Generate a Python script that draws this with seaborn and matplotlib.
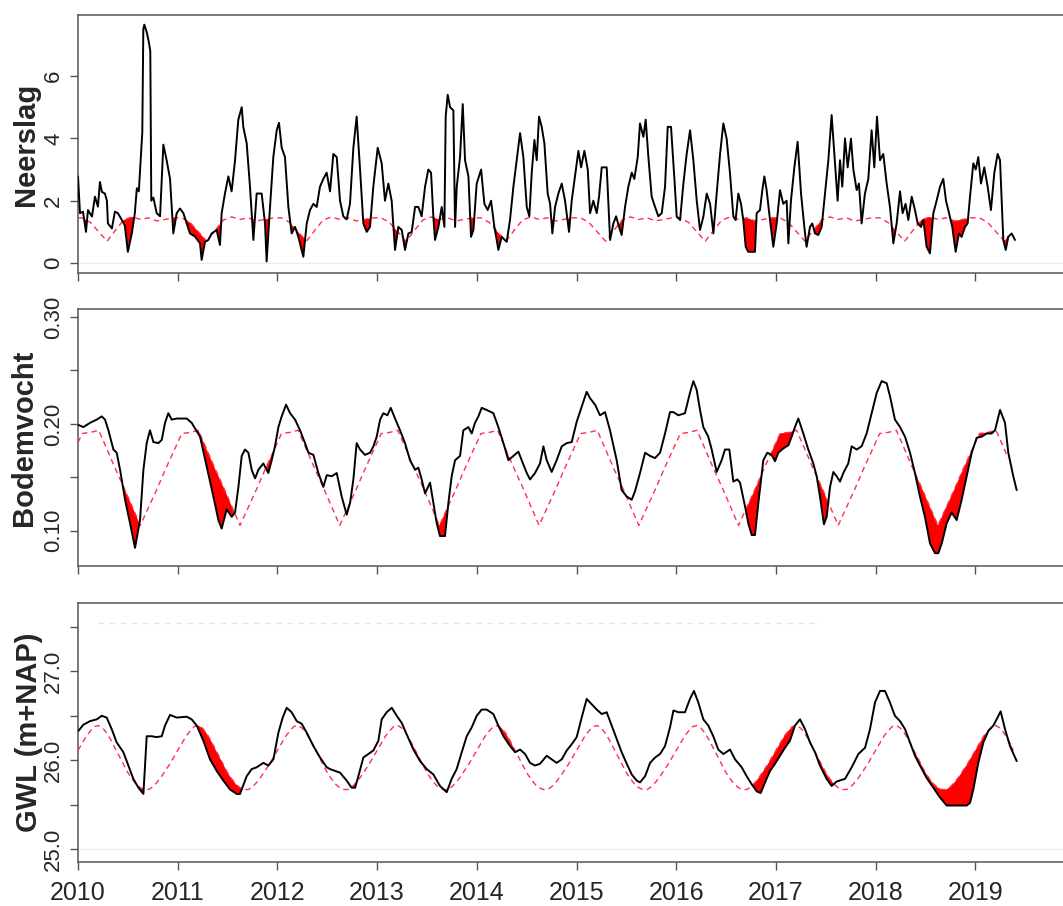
import numpy as np
import matplotlib
matplotlib.use("Agg")
import matplotlib.pyplot as plt
import seaborn as sns

# === Data (decimal years) ===
neer_t = [2010.00, 2010.02, 2010.05, 2010.08, 2010.10, 2010.14, 2010.17, 2010.20, 2010.22, 2010.24,
          2010.27, 2010.29, 2010.30, 2010.34, 2010.37, 2010.40, 2010.44, 2010.47, 2010.50, 2010.54,
          2010.57, 2010.59, 2010.61, 2010.63, 2010.645, 2010.655, 2010.665, 2010.69, 2010.71, 2010.725,
          2010.735, 2010.756, 2010.789, 2010.823, 2010.856, 2010.889, 2010.923, 2010.956, 2010.990, 2011.023,
          2011.057, 2011.090, 2011.123, 2011.174, 2011.224, 2011.240, 2011.274, 2011.307, 2011.341, 2011.391,
          2011.424, 2011.441, 2011.474, 2011.508, 2011.541, 2011.575, 2011.608, 2011.642, 2011.658, 2011.692,
          2011.725, 2011.759, 2011.792, 2011.842, 2011.876, 2011.892, 2011.926, 2011.959, 2011.993, 2012.016,
          2012.043, 2012.076, 2012.110, 2012.143, 2012.177, 2012.210, 2012.260, 2012.294, 2012.327, 2012.361,
          2012.394, 2012.427, 2012.461, 2012.494, 2012.528, 2012.561, 2012.595, 2012.628, 2012.661, 2012.695,
          2012.728, 2012.762, 2012.795, 2012.829, 2012.862, 2012.896, 2012.929, 2012.962, 2013.006, 2013.046,
          2013.079, 2013.113, 2013.146, 2013.180, 2013.213, 2013.247, 2013.280, 2013.314, 2013.347, 2013.381,
          2013.414, 2013.447, 2013.481, 2013.514, 2013.541, 2013.564, 2013.581, 2013.615, 2013.648, 2013.675,
          2013.688, 2013.708, 2013.732, 2013.765, 2013.782, 2013.799, 2013.832, 2013.859, 2013.882, 2013.916,
          2013.942, 2013.966, 2013.999, 2014.043, 2014.076, 2014.109, 2014.143, 2014.176, 2014.200, 2014.216,
          2014.250, 2014.300, 2014.333, 2014.367, 2014.400, 2014.434, 2014.467, 2014.501, 2014.527, 2014.551,
          2014.578, 2014.601, 2014.624, 2014.651, 2014.678, 2014.711, 2014.735, 2014.758, 2014.785, 2014.818,
          2014.852, 2014.885, 2014.925, 2014.952, 2014.985, 2015.019, 2015.046, 2015.079, 2015.113, 2015.136,
          2015.169, 2015.203, 2015.226, 2015.253, 2015.303, 2015.337, 2015.370, 2015.397, 2015.427, 2015.453,
          2015.487, 2015.520, 2015.554, 2015.580, 2015.614, 2015.637, 2015.671, 2015.694, 2015.721, 2015.754,
          2015.788, 2015.821, 2015.855, 2015.888, 2015.915, 2015.948, 2015.982, 2016.005, 2016.039, 2016.072,
          2016.105, 2016.139, 2016.172, 2016.206, 2016.239, 2016.273, 2016.306, 2016.340, 2016.373, 2016.406,
          2016.440, 2016.473, 2016.506, 2016.539, 2016.573, 2016.596, 2016.623, 2016.650, 2016.673, 2016.697,
          2016.723, 2016.757, 2016.790, 2016.807, 2016.840, 2016.864, 2016.884, 2016.907, 2016.941, 2016.974,
          2017.008, 2017.041, 2017.074, 2017.108, 2017.125, 2017.151, 2017.185, 2017.218, 2017.252, 2017.285,
          2017.308, 2017.342, 2017.365, 2017.392, 2017.425, 2017.459, 2017.492, 2017.526, 2017.559, 2017.586,
          2017.619, 2017.643, 2017.666, 2017.693, 2017.720, 2017.753, 2017.777, 2017.810, 2017.833, 2017.860,
          2017.893, 2017.927, 2017.960, 2017.987, 2018.014, 2018.044, 2018.077, 2018.111, 2018.144, 2018.178,
          2018.211, 2018.245, 2018.271, 2018.301, 2018.328, 2018.362, 2018.395, 2018.422, 2018.455, 2018.479,
          2018.512, 2018.545, 2018.579, 2018.612, 2018.646, 2018.679, 2018.706, 2018.729, 2018.769, 2018.803,
          2018.836, 2018.863, 2018.897, 2018.923, 2018.947, 2018.980, 2019.004, 2019.030, 2019.057, 2019.090,
          2019.124, 2019.157, 2019.191, 2019.224, 2019.248, 2019.281, 2019.305, 2019.331, 2019.365, 2019.398]
neer_v = [2.78, 1.6, 1.65, 1.0, 1.7, 1.49, 2.13, 1.81, 2.6, 2.28,
          2.23, 2.0, 1.27, 1.11, 1.65, 1.6, 1.38, 1.2, 0.36, 0.95,
          1.6, 2.4, 2.3, 3.4, 4.2, 7.5, 7.65, 7.4, 7.1, 6.8,
          2.0, 2.1, 1.6, 1.5, 3.8, 3.3, 2.7, 0.95, 1.6, 1.75,
          1.6, 1.27, 0.95, 0.85, 0.63, 0.1, 0.68, 0.74, 0.95, 1.06,
          0.58, 1.6, 2.23, 2.78, 2.3, 3.3, 4.6, 5.0, 4.37, 3.84,
          2.45, 0.74, 2.23, 2.23, 1.27, 0.05, 1.8, 3.4, 4.26, 4.5,
          3.7, 3.4, 1.8, 0.95, 1.16, 0.84, 0.2, 1.27, 1.7, 1.9,
          1.8, 2.45, 2.7, 2.9, 2.3, 3.5, 3.4, 2.0, 1.5, 1.4,
          1.9, 3.7, 4.7, 3.0, 1.27, 1.0, 1.16, 2.45, 3.7, 3.2,
          2.0, 2.55, 2.0, 0.42, 1.16, 1.06, 0.42, 0.95, 1.0, 1.8,
          1.8, 1.5, 2.45, 3.0, 2.9, 1.5, 0.74, 1.16, 1.8, 1.16,
          4.7, 5.4, 5.0, 4.9, 1.16, 2.45, 3.4, 5.1, 3.3, 2.78,
          0.84, 1.06, 2.55, 3.0, 1.9, 1.7, 2.0, 1.16, 0.74, 0.42,
          0.84, 0.68, 1.38, 2.45, 3.3, 4.17, 3.4, 1.8, 1.5, 2.9,
          3.95, 3.3, 4.7, 4.37, 3.84, 2.23, 1.9, 0.95, 1.8, 2.23,
          2.55, 2.0, 1.0, 2.0, 2.78, 3.6, 3.07, 3.6, 3.0, 1.6,
          2.0, 1.6, 2.13, 3.07, 3.07, 0.74, 1.27, 1.5, 1.16, 0.9,
          1.8, 2.45, 2.9, 2.7, 3.4, 4.48, 4.05, 4.6, 3.4, 2.13,
          1.8, 1.5, 1.6, 2.45, 4.37, 4.37, 2.7, 1.5, 1.38, 2.55,
          3.5, 4.26, 3.3, 2.0, 1.06, 1.5, 2.23, 1.9, 0.95, 2.23,
          3.5, 4.48, 3.99, 2.9, 1.5, 1.38, 2.23, 1.9, 1.38, 0.52,
          0.36, 0.36, 0.36, 1.6, 1.7, 2.34, 2.78, 2.34, 1.38, 0.52,
          1.27, 2.34, 1.9, 2.0, 0.63, 2.0, 3.07, 3.89, 2.23, 1.16,
          0.52, 1.16, 1.27, 0.95, 0.9, 1.16, 2.23, 3.3, 4.75, 3.5,
          2.0, 3.3, 2.45, 4.0, 3.07, 3.99, 3.0, 2.34, 2.55, 1.27,
          2.23, 2.7, 4.26, 3.07, 4.7, 3.3, 3.5, 2.55, 1.8, 0.63,
          1.27, 2.3, 1.6, 1.9, 1.38, 2.13, 1.7, 1.27, 1.16, 1.38,
          0.52, 0.31, 1.6, 2.0, 2.45, 2.7, 2.0, 1.7, 1.16, 0.36,
          0.95, 0.84, 1.16, 1.27, 2.13, 3.2, 3.0, 3.4, 2.55, 3.07,
          2.45, 1.7, 2.9, 3.5, 3.3, 0.74, 0.42, 0.84, 0.95, 0.74]

bodem_t = [2010.004, 2010.054, 2010.121, 2010.188, 2010.238, 2010.271, 2010.305, 2010.355, 2010.388, 2010.422,
           2010.472, 2010.522, 2010.572, 2010.622, 2010.656, 2010.689, 2010.722, 2010.756, 2010.806, 2010.840,
           2010.873, 2010.906, 2010.940, 2010.990, 2011.090, 2011.140, 2011.191, 2011.224, 2011.291, 2011.358,
           2011.408, 2011.441, 2011.491, 2011.542, 2011.575, 2011.609, 2011.642, 2011.675, 2011.709, 2011.742,
           2011.776, 2011.809, 2011.859, 2011.909, 2011.943, 2011.976, 2012.010, 2012.043, 2012.087, 2012.127,
           2012.177, 2012.227, 2012.277, 2012.311, 2012.361, 2012.411, 2012.461, 2012.495, 2012.545, 2012.595,
           2012.645, 2012.695, 2012.729, 2012.762, 2012.795, 2012.829, 2012.879, 2012.929, 2012.963, 2012.996,
           2013.030, 2013.063, 2013.103, 2013.137, 2013.180, 2013.230, 2013.280, 2013.330, 2013.381, 2013.414,
           2013.447, 2013.481, 2013.531, 2013.564, 2013.598, 2013.631, 2013.681, 2013.715, 2013.748, 2013.782,
           2013.832, 2013.865, 2013.916, 2013.949, 2013.982, 2014.016, 2014.049, 2014.099, 2014.166, 2014.216,
           2014.267, 2014.317, 2014.367, 2014.417, 2014.450, 2014.501, 2014.534, 2014.584, 2014.634, 2014.668,
           2014.701, 2014.751, 2014.801, 2014.852, 2014.902, 2014.952, 2015.002, 2015.052, 2015.102, 2015.136,
           2015.186, 2015.236, 2015.286, 2015.336, 2015.403, 2015.453, 2015.504, 2015.554, 2015.587, 2015.637,
           2015.688, 2015.738, 2015.788, 2015.838, 2015.888, 2015.938, 2015.972, 2016.022, 2016.088, 2016.138,
           2016.172, 2016.205, 2016.239, 2016.272, 2016.322, 2016.356, 2016.406, 2016.456, 2016.489, 2016.533,
           2016.573, 2016.613, 2016.640, 2016.690, 2016.723, 2016.757, 2016.790, 2016.824, 2016.874, 2016.914,
           2016.957, 2016.991, 2017.024, 2017.074, 2017.125, 2017.158, 2017.191, 2017.225, 2017.275, 2017.325,
           2017.375, 2017.409, 2017.442, 2017.482, 2017.509, 2017.543, 2017.576, 2017.609, 2017.643, 2017.676,
           2017.726, 2017.760, 2017.810, 2017.860, 2017.910, 2017.960, 2018.011, 2018.061, 2018.111, 2018.144,
           2018.194, 2018.245, 2018.295, 2018.345, 2018.395, 2018.445, 2018.495, 2018.546, 2018.596, 2018.629,
           2018.663, 2018.713, 2018.763, 2018.813, 2018.863, 2018.913, 2018.964, 2019.014, 2019.064, 2019.114,
           2019.164, 2019.198, 2019.248, 2019.298, 2019.331, 2019.381, 2019.415]
bodem_v = [0.199, 0.197, 0.201, 0.204, 0.207, 0.204, 0.194, 0.176, 0.173, 0.157,
           0.129, 0.107, 0.084, 0.110, 0.157, 0.182, 0.194, 0.183, 0.182, 0.185,
           0.201, 0.210, 0.204, 0.205, 0.205, 0.201, 0.193, 0.188, 0.160, 0.132,
           0.110, 0.102, 0.120, 0.113, 0.117, 0.141, 0.170, 0.176, 0.173, 0.157,
           0.149, 0.157, 0.163, 0.154, 0.166, 0.179, 0.197, 0.207, 0.218, 0.210,
           0.204, 0.194, 0.182, 0.173, 0.171, 0.154, 0.141, 0.152, 0.151, 0.154,
           0.132, 0.115, 0.126, 0.148, 0.182, 0.176, 0.171, 0.173, 0.179, 0.188,
           0.204, 0.210, 0.208, 0.215, 0.205, 0.194, 0.182, 0.166, 0.157, 0.159,
           0.148, 0.135, 0.145, 0.126, 0.107, 0.095, 0.095, 0.126, 0.151, 0.166,
           0.170, 0.194, 0.197, 0.191, 0.201, 0.207, 0.215, 0.213, 0.210, 0.197,
           0.182, 0.166, 0.170, 0.174, 0.166, 0.154, 0.148, 0.154, 0.163, 0.179,
           0.166, 0.155, 0.166, 0.179, 0.182, 0.183, 0.202, 0.216, 0.230, 0.224,
           0.218, 0.208, 0.211, 0.194, 0.166, 0.138, 0.132, 0.129, 0.137, 0.154,
           0.173, 0.170, 0.168, 0.173, 0.191, 0.211, 0.211, 0.208, 0.210, 0.229,
           0.240, 0.232, 0.213, 0.197, 0.188, 0.176, 0.155, 0.166, 0.176, 0.176,
           0.146, 0.148, 0.145, 0.123, 0.107, 0.096, 0.096, 0.126, 0.166, 0.173,
           0.171, 0.165, 0.173, 0.177, 0.180, 0.188, 0.197, 0.205, 0.191, 0.176,
           0.163, 0.151, 0.132, 0.106, 0.113, 0.141, 0.155, 0.151, 0.146, 0.154,
           0.163, 0.179, 0.176, 0.179, 0.191, 0.210, 0.229, 0.240, 0.238, 0.226,
           0.204, 0.197, 0.188, 0.173, 0.154, 0.132, 0.113, 0.088, 0.079, 0.079,
           0.088, 0.107, 0.117, 0.110, 0.129, 0.151, 0.173, 0.187, 0.188, 0.191,
           0.191, 0.194, 0.213, 0.201, 0.173, 0.151, 0.138]

gwl_t = [2010.004, 2010.054, 2010.121, 2010.188, 2010.238, 2010.288, 2010.338, 2010.388, 2010.455, 2010.505,
         2010.555, 2010.606, 2010.656, 2010.689, 2010.739, 2010.789, 2010.840, 2010.873, 2010.923, 2010.990,
         2011.090, 2011.140, 2011.191, 2011.257, 2011.324, 2011.391, 2011.458, 2011.525, 2011.592, 2011.625,
         2011.692, 2011.742, 2011.792, 2011.859, 2011.909, 2011.960, 2012.010, 2012.053, 2012.093, 2012.143,
         2012.194, 2012.244, 2012.294, 2012.361, 2012.428, 2012.495, 2012.528, 2012.578, 2012.628, 2012.695,
         2012.745, 2012.779, 2012.812, 2012.862, 2012.912, 2012.963, 2013.013, 2013.046, 2013.096, 2013.147,
         2013.197, 2013.247, 2013.297, 2013.364, 2013.431, 2013.498, 2013.564, 2013.631, 2013.698, 2013.748,
         2013.798, 2013.849, 2013.899, 2013.949, 2013.999, 2014.049, 2014.099, 2014.166, 2014.216, 2014.267,
         2014.333, 2014.384, 2014.434, 2014.484, 2014.534, 2014.584, 2014.634, 2014.701, 2014.751, 2014.801,
         2014.852, 2014.902, 2014.952, 2015.002, 2015.052, 2015.102, 2015.152, 2015.203, 2015.253, 2015.303,
         2015.353, 2015.403, 2015.453, 2015.504, 2015.554, 2015.604, 2015.637, 2015.688, 2015.738, 2015.788,
         2015.838, 2015.888, 2015.938, 2015.972, 2016.022, 2016.088, 2016.138, 2016.178, 2016.222, 2016.272,
         2016.322, 2016.372, 2016.422, 2016.473, 2016.540, 2016.590, 2016.657, 2016.707, 2016.757, 2016.807,
         2016.847, 2016.891, 2016.941, 2016.991, 2017.041, 2017.091, 2017.141, 2017.191, 2017.242, 2017.292,
         2017.342, 2017.392, 2017.442, 2017.509, 2017.559, 2017.609, 2017.693, 2017.760, 2017.827, 2017.894,
         2017.944, 2017.994, 2018.044, 2018.094, 2018.144, 2018.194, 2018.245, 2018.295, 2018.345, 2018.395,
         2018.445, 2018.512, 2018.579, 2018.646, 2018.713, 2018.780, 2018.846, 2018.913, 2018.947, 2018.980,
         2019.030, 2019.081, 2019.131, 2019.181, 2019.214, 2019.254, 2019.298, 2019.348, 2019.415]
gwl_v = [26.33, 26.40, 26.44, 26.46, 26.50, 26.48, 26.35, 26.20, 26.09, 25.94,
         25.79, 25.69, 25.62, 26.27, 26.27, 26.26, 26.27, 26.39, 26.51, 26.48,
         26.49, 26.46, 26.39, 26.22, 26.01, 25.88, 25.77, 25.67, 25.62, 25.62,
         25.82, 25.90, 25.92, 25.97, 25.94, 26.01, 26.31, 26.48, 26.59, 26.54,
         26.44, 26.41, 26.31, 26.16, 26.03, 25.92, 25.90, 25.88, 25.86, 25.77,
         25.69, 25.69, 25.82, 26.03, 26.07, 26.11, 26.22, 26.46, 26.54, 26.59,
         26.50, 26.42, 26.29, 26.12, 25.99, 25.90, 25.84, 25.71, 25.64, 25.79,
         25.90, 26.09, 26.27, 26.37, 26.50, 26.57, 26.57, 26.52, 26.39, 26.27,
         26.16, 26.09, 26.12, 26.07, 25.97, 25.94, 25.96, 26.05, 26.01, 25.97,
         26.01, 26.11, 26.18, 26.26, 26.48, 26.69, 26.63, 26.57, 26.52, 26.54,
         26.39, 26.24, 26.09, 25.96, 25.84, 25.77, 25.75, 25.82, 25.97, 26.03,
         26.07, 26.16, 26.37, 26.56, 26.54, 26.54, 26.69, 26.78, 26.65, 26.46,
         26.39, 26.27, 26.12, 26.07, 26.12, 26.01, 25.92, 25.82, 25.73, 25.65,
         25.63, 25.75, 25.88, 25.96, 26.05, 26.14, 26.22, 26.39, 26.46, 26.35,
         26.20, 26.09, 25.94, 25.79, 25.71, 25.76, 25.79, 25.92, 26.07, 26.14,
         26.35, 26.65, 26.78, 26.78, 26.65, 26.50, 26.44, 26.35, 26.20, 26.05,
         25.94, 25.80, 25.69, 25.58, 25.49, 25.49, 25.49, 25.49, 25.52, 25.67,
         25.97, 26.20, 26.33, 26.39, 26.46, 26.55, 26.35, 26.16, 25.99]

# climatology (long-term mean per month / half month)
neer_clim = [1.45, 1.30, 1.00, 0.70, 1.05, 1.38, 1.48, 1.40, 1.45, 1.35, 1.40, 1.45]
bodem_clim = [0.191, 0.192, 0.194, 0.176, 0.158, 0.141, 0.123, 0.105, 0.122, 0.139, 0.157, 0.174]
gwl_clim = [26.11, 26.19, 26.27, 26.33, 26.38, 26.39, 26.36, 26.30, 26.22, 26.13, 26.04, 25.95,
            25.86, 25.79, 25.73, 25.69, 25.67, 25.67, 25.70, 25.75, 25.81, 25.88, 25.95, 26.03]
clim_end = [2019.33, 2019.33, 2019.38]

years = list(range(2010, 2020))
RED = "#ff2f4f"


def clim_knots(vals, offset):
    n = len(vals)
    yrs = np.arange(2009, 2022)
    kt = (yrs[:, None] + (np.arange(n) + offset) / n).ravel()
    kv = np.tile(vals, len(yrs))
    return kt, kv


def draw_panel(ax, t, v, clim, offset, t1):
    t = np.asarray(t)
    v = np.asarray(v)
    kt, kv = clim_knots(clim, offset)
    t0 = 2010.0
    inner = (kt > t0) & (kt < t1)
    ct = np.concatenate([[t0], kt[inner], [t1]])
    cv = np.interp(ct, kt, kv)
    # deficit shading where observed < climatology
    grid = np.union1d(t[t <= t1], kt[(kt > t[0]) & (kt < t1)])
    grid = np.union1d(grid, [t1])
    o = np.interp(grid, t, v)
    c = np.interp(grid, kt, kv)
    ax.fill_between(grid, o, c, where=o < c, interpolate=True, color="red", lw=0, zorder=2)
    sns.lineplot(x=ct, y=cv, ax=ax, color=RED, linewidth=1.0, linestyle=(0, (4, 3)),
                 estimator=None, sort=False, zorder=3)
    sns.lineplot(x=t, y=v, ax=ax, color="black", linewidth=1.4, estimator=None, sort=False, zorder=4)


sns.set_style("ticks")
plt.rcParams["font.family"] = ["Liberation Sans", "DejaVu Sans"]

W, H = 1063, 906
fig = plt.figure(figsize=(W / 100, H / 100), dpi=100)


def add_ax(top, bottom):
    return fig.add_axes([78 / W, 1 - bottom / H, (1075 - 78) / W, (bottom - top) / H])


ax1 = add_ax(15, 273)
ax2 = add_ax(309, 566)
ax3 = add_ax(603, 862)

ax1.axhline(0, color="#ececec", lw=1, zorder=1)
ax3.axhline(25.0, color="#ececec", lw=1, zorder=1)
ax3.plot([2010.2, 2017.45], [27.55, 27.55], color="#e4e4e4", lw=1, ls=(0, (4, 4)), zorder=1)

draw_panel(ax1, neer_t, neer_v, neer_clim, 0.5, clim_end[0])
draw_panel(ax2, bodem_t, bodem_v, bodem_clim, 0.5, clim_end[1])
draw_panel(ax3, gwl_t, gwl_v, gwl_clim, 0.0, clim_end[2])

ax1.set_ylim(-0.32, 7.96)
ax1.set_yticks([0, 2, 4, 6])
ax1.set_yticklabels(["0", "2", "4", "6"])
ax2.set_ylim(0.067, 0.3075)
ax2.set_yticks([0.10, 0.15, 0.20, 0.25, 0.30])
ax2.set_yticklabels(["0.10", "", "0.20", "", "0.30"])
ax3.set_ylim(24.854, 27.77)
ax3.set_yticks([25.0, 25.5, 26.0, 26.5, 27.0, 27.5])
ax3.set_yticklabels(["25.0", "", "26.0", "", "27.0", ""])

labels = ["Neerslag", "Bodemvocht", "GWL (m+NAP)"]
for ax, lab, lx in zip([ax1, ax2, ax3], labels, [-0.038, -0.040, -0.035]):
    ax.set_xlim(2010, 2020)
    ax.set_xticks(years)
    ax.set_xlabel("")
    ax.set_ylabel(lab, fontsize=21, fontweight="bold")
    ax.yaxis.set_label_coords(lx, 0.5)
    for s in ax.spines.values():
        s.set_color("#555555")
        s.set_linewidth(1.1)
    ax.tick_params(axis="both", length=6, width=1.0, color="#555555", direction="out")
    ax.tick_params(axis="y", labelrotation=90, labelsize=16, pad=4)
    ax.tick_params(axis="x", labelsize=18, pad=8)

ax1.tick_params(axis="x", labelbottom=False)
ax2.tick_params(axis="x", labelbottom=False)
ax3.set_xticklabels([str(y) for y in years])
for lab in ax1.get_yticklabels() + ax2.get_yticklabels() + ax3.get_yticklabels():
    lab.set_va("center")

fig.savefig("out.png", dpi=100)
